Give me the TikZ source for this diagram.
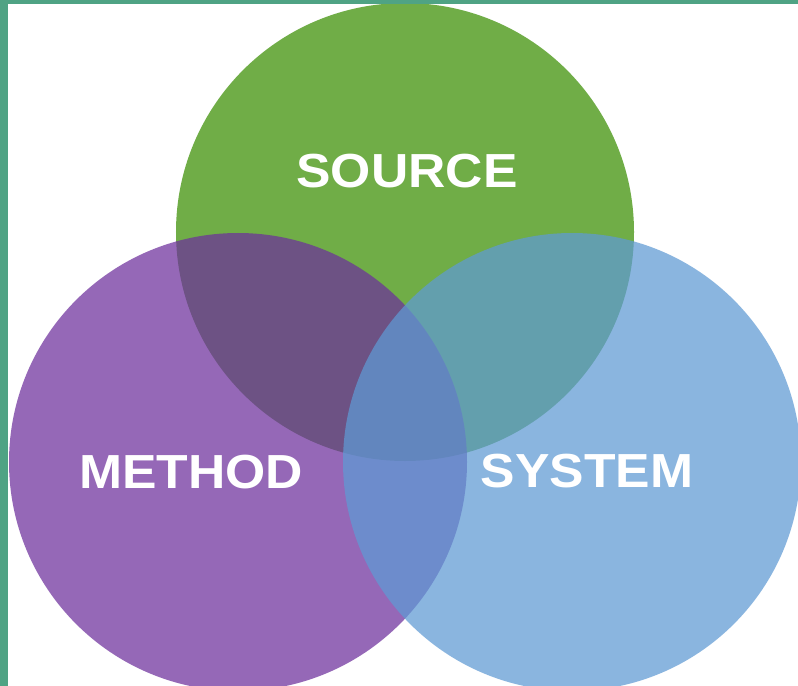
\documentclass[tikz,border=0pt]{standalone}
\usepackage{fontspec}
\newfontfamily\labfont[FakeStretch=1.08]{Liberation Sans Bold}
\definecolor{frame}{RGB}{79,163,132}
\definecolor{cgreen}{RGB}{112,173,71}
\definecolor{cpurple}{RGB}{109,47,156}
\definecolor{cblue}{RGB}{95,154,212}
\tikzset{
  venn/.style={circle, minimum size=458bp, inner sep=0pt, draw=none},
  lab/.style={anchor=base, text=white, inner sep=0pt, font=\labfont\fontsize{48}{48}\selectfont}
}
\begin{document}
\begin{tikzpicture}[x=1bp,y=-1bp]
\useasboundingbox (0,0) rectangle (798,686);
\clip (0,0) rectangle (798,686);
\fill[white] (0,0) rectangle (798,686);
\node[venn, fill=cgreen] (source) at (405,232) {};
\node[venn, fill=cpurple, fill opacity=0.72] (method) at (238,462) {};
\node[venn, fill=cblue, fill opacity=0.73] (system) at (572,462) {};
\node[lab] (tsource) at (407,187) {SOURCE};
\node[lab] (tmethod) at (191,488) {METHOD};
\node[lab] (tsystem) at (587,487) {SYSTEM};
\fill[frame] (0,0) rectangle (798,4);
\fill[frame] (0,0) rectangle (8,686);
\end{tikzpicture}
\end{document}
